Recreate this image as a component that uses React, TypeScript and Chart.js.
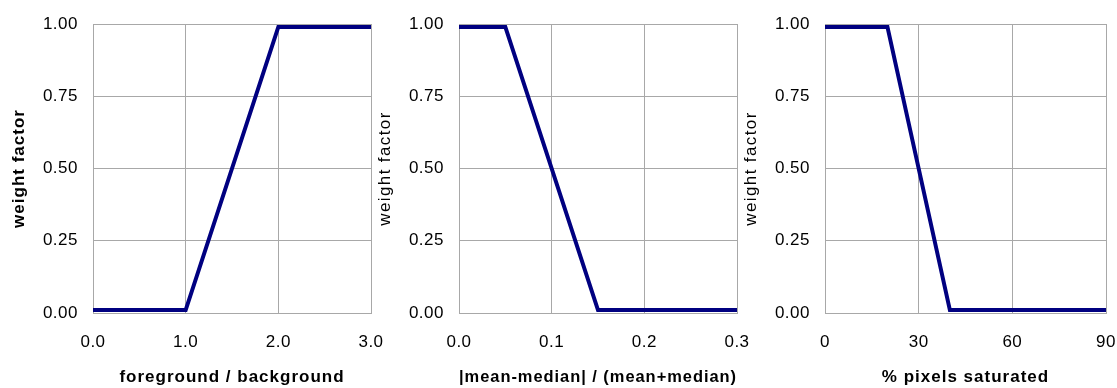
import React, { useEffect, useRef } from "react";
import { Chart, registerables } from "chart.js";

Chart.register(...registerables);

// Weight-factor response curves
const ratioX = [0, 1, 2, 3];
const ratioY = [0.01, 0.01, 0.99, 0.99];

const skewX = [0, 0.05, 0.15, 0.3];
const skewY = [0.99, 0.99, 0.01, 0.01];

const satX = [0, 20, 40, 90];
const satY = [0.99, 0.99, 0.01, 0.01];

const yTicks = [0, 0.25, 0.5, 0.75, 1];

const FONT = "'Liberation Sans', Arial, Helvetica, sans-serif";
const GRID = "#a8a8a8";
const LINE = "#000080";
const TICK_SPACING = "0.5px";

// Slightly wider letter spacing for tick labels
const spacingPlugin = {
  id: "letterSpacing",
  beforeDraw(chart: any) {
    chart.ctx.letterSpacing = TICK_SPACING;
  },
};

// Axis titles get their own letter spacing
function spacedTitle(s: any, spacing: string) {
  if (s.__spaced) return;
  s.__spaced = true;
  const orig = s.drawTitle.bind(s);
  s.drawTitle = () => {
    const c = s.ctx;
    const prev = c.letterSpacing;
    c.letterSpacing = spacing;
    orig();
    c.letterSpacing = prev;
  };
}

type PanelProps = {
  xs: number[];
  ys: number[];
  xMin: number;
  xMax: number;
  xStep: number;
  xDigits: number;
  xTitle: string;
  yTitleBold: boolean;
  left: number;
  width: number;
};

function Panel(p: PanelProps) {
  const ref = useRef<HTMLCanvasElement | null>(null);
  useEffect(() => {
    if (!ref.current) return;
    const chart = new Chart(ref.current, {
      type: "scatter",
      data: {
        datasets: [
          {
            data: p.xs.map((x, i) => ({ x, y: p.ys[i] })),
            showLine: true,
            borderColor: LINE,
            backgroundColor: LINE,
            borderWidth: 4,
            pointRadius: 0,
            tension: 0,
          },
        ],
      },
      plugins: [spacingPlugin],
      options: {
        animation: false,
        responsive: false,
        maintainAspectRatio: false,
        layout: { padding: { top: 24, left: 0, right: 20, bottom: 0 } },
        plugins: { legend: { display: false }, tooltip: { enabled: false } },
        scales: {
          x: {
            type: "linear",
            min: p.xMin,
            max: p.xMax,
            afterFit: (s: any) => {
              s.height = 75;
              spacedTitle(s, "1px");
            },
            ticks: {
              stepSize: p.xStep,
              padding: 3,
              color: "#000",
              font: { family: FONT, size: 17 },
              maxRotation: 0,
              callback: (v: any) => Number(v).toFixed(p.xDigits),
            },
            grid: {
              color: GRID,
              lineWidth: 1,
              drawTicks: true,
              tickLength: 16,
              tickColor: "rgba(0,0,0,0)",
            },
            border: { color: GRID, width: 1 },
            title: {
              display: true,
              text: p.xTitle,
              color: "#000",
              font: { family: FONT, size: 17, weight: "bold" },
              padding: { top: 0, bottom: 0 },
            },
          },
          y: {
            type: "linear",
            min: 0,
            max: 1,
            afterFit: (s: any) => {
              s.width = 90;
              spacedTitle(s, p.yTitleBold ? "1px" : "1.4px");
            },
            afterBuildTicks: (s: any) => {
              s.ticks = yTicks.map((v) => ({ value: v }));
            },
            ticks: {
              padding: 3,
              color: "#000",
              font: { family: FONT, size: 17 },
              callback: (v: any) => Number(v).toFixed(2),
            },
            grid: {
              color: GRID,
              lineWidth: 1,
              drawTicks: true,
              tickLength: 12,
              tickColor: "rgba(0,0,0,0)",
            },
            border: { color: GRID, width: 1 },
            title: {
              display: true,
              text: "weight factor",
              color: "#000",
              font: { family: FONT, size: 17, weight: p.yTitleBold ? "bold" : "normal" },
              padding: { top: 6, bottom: 0 },
            },
          },
        },
      },
    });
    return () => chart.destroy();
  }, []);
  return (
    <canvas
      ref={ref}
      width={p.width}
      height={388}
      style={{ position: "absolute", left: p.left, top: 0, width: p.width, height: 388 }}
    />
  );
}

export default function App() {
  return (
    <div
      style={{
        position: "absolute",
        left: 0,
        top: 0,
        width: 1117,
        height: 388,
        overflow: "hidden",
        background: "#fff",
      }}
    >
      <Panel xs={ratioX} ys={ratioY} xMin={0} xMax={3} xStep={1} xDigits={1}
        xTitle="foreground / background" yTitleBold={true}
        left={3} width={388} />
      <Panel xs={skewX} ys={skewY} xMin={0} xMax={0.3} xStep={0.1} xDigits={1}
        xTitle="|mean-median| / (mean+median)" yTitleBold={false}
        left={369} width={388} />
      <Panel xs={satX} ys={satY} xMin={0} xMax={90} xStep={30} xDigits={0}
        xTitle="% pixels saturated" yTitleBold={false}
        left={735} width={391} />
    </div>
  );
}
